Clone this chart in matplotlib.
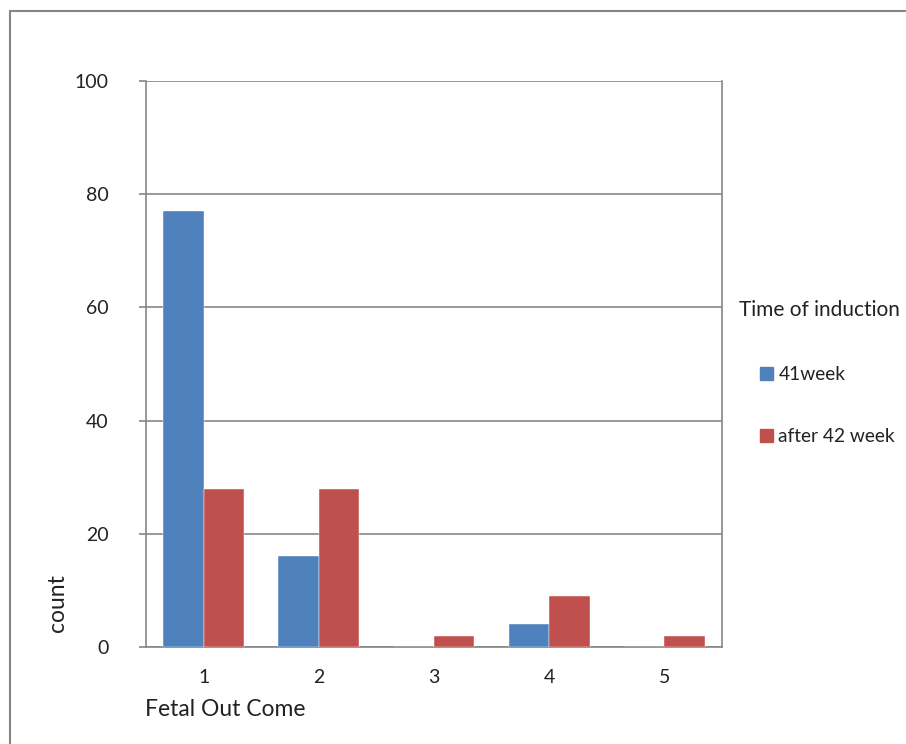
import matplotlib
matplotlib.use("Agg")
import matplotlib.pyplot as plt
from matplotlib.patches import Rectangle, Patch
import numpy as np

categories = ["1", "2", "3", "4", "5"]
week41 = [77, 16, 0, 4, 0]
after42 = [28, 28, 2, 9, 2]
yticks = [0, 20, 40, 60, 80, 100]

plt.rcParams['font.family'] = ['Lato', 'DejaVu Sans']
blue = '#4F81BD'
red = '#C0504D'
gray = '#868686'
tc = '#222222'

W, H = 906, 744
fig = plt.figure(figsize=(W/100, H/100), dpi=100)
fig.patches.append(Rectangle((10/W, -0.1), 1.2, 1.1 - 11/H, transform=fig.transFigure,
                             fill=False, edgecolor=gray, linewidth=1.5))

ax = fig.add_axes([146/W, (H-647)/H, (722-146)/W, (647-81)/H])
x = np.arange(1, len(categories)+1)
bw = 0.35
ax.bar(x - bw/2, week41, bw, color=blue, edgecolor='white', linewidth=0.3, zorder=3)
ax.bar(x + bw/2, after42, bw, color=red, edgecolor='white', linewidth=0.3, zorder=3)
ax.set_xlim(0.5, 5.5)
ax.set_ylim(0, 100)
ax.set_yticks(yticks)
ax.set_xticks(x)
ax.set_xticklabels(categories)
ax.yaxis.grid(True, color=gray, linewidth=1.2, zorder=0)
ax.set_axisbelow(True)
for s in ax.spines.values():
    s.set_color(gray)
    s.set_linewidth(1.2)
ax.spines['top'].set_visible(False)
ax.tick_params(axis='y', length=5, width=1.2, color=gray, labelsize=14, pad=22, labelcolor=tc)
ax.tick_params(axis='x', length=0, labelsize=14, pad=16, labelcolor=tc)

fig.text(145/W, 1 - 710/H, "Fetal Out Come", fontsize=16.5, ha='left', va='center', color=tc)
fig.text(58/W, 1 - 603/H, "count", fontsize=16.5, rotation=90, ha='center', va='center', color=tc)

fig.text(739/W, 1 - 310/H, "Time of induction", fontsize=15, ha='left', va='center', color=tc)
handles = [Patch(color=blue), Patch(color=red)]
fig.legend(handles, ["41week", "after 42 week"], loc='upper left',
           bbox_to_anchor=(743/W, 1 - 349/H), frameon=False, fontsize=13.8,
           handlelength=0.65, handleheight=0.65, handletextpad=0.3, labelspacing=2.35,
           labelcolor=tc)

fig.savefig("out.png", dpi=100)
